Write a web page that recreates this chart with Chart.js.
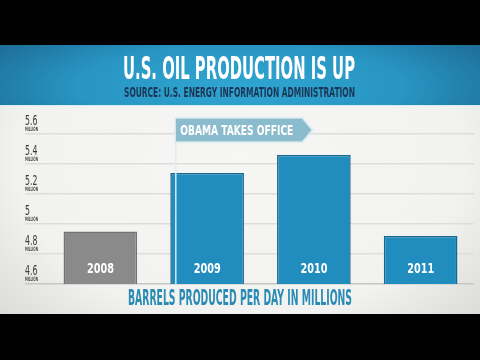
<!DOCTYPE html>
<html>

<head>
  <title>U.S. Oil Production Is Up</title>
  <script src="https://cdn.jsdelivr.net/npm/chart.js"></script>
  <style>
    body { margin: 0; background: #000; }
    #wrap { position: relative; width: 480px; height: 360px; overflow: hidden; background: #000; }
    #band {
      position: absolute; left: 0; top: 45px; width: 480px; height: 60px;
      background: radial-gradient(ellipse 62% 130% at 50% 70%, #30a6d2 0%, #2895c2 55%, #1c6a93 100%);
    }
    #panel {
      position: absolute; left: 0; top: 105px; width: 480px; height: 208px;
      border-top: 1px solid #d8ecf3;
      background: radial-gradient(ellipse 75% 125% at 50% 25%, #f6f6f4 0%, #f2f2f0 62%, #d2d2d0 100%);
    }
    .txt {
      position: absolute; white-space: nowrap; transform-origin: 0 0; line-height: 1;
      font-family: 'Liberation Sans Narrow', 'DejaVu Sans Condensed', 'Liberation Sans', sans-serif;
      font-weight: bold;
    }
    canvas { position: absolute; left: 0; top: 0; }
  </style>
</head>

<body>
  <div id="wrap">
    <div id="band"></div>
    <div id="panel"></div>
    <canvas id="myChart" width="480" height="360"></canvas>
    <span class="txt" id="title" style="color:#fff" data-x="123" data-top="57" data-cap="23" data-w="232">U.S. OIL PRODUCTION IS UP</span>
    <span class="txt" id="source" style="color:#1b3655" data-x="124" data-top="88" data-cap="10" data-w="231">SOURCE: U.S. ENERGY INFORMATION ADMINISTRATION</span>
    <span class="txt" id="caption" style="color:#2a8bb4" data-x="128" data-top="290" data-cap="15" data-w="224">BARRELS PRODUCED PER DAY IN MILLIONS</span>
  </div>
  <script>
    var years = ['2008', '2009', '2010', '2011'];
    var barrels = [4.95, 5.34, 5.46, 4.92];
    var yTicks = [4.6, 4.8, 5.0, 5.2, 5.4, 5.6];
    var tickUnit = 'MILLION';
    var note = 'OBAMA TAKES OFFICE';

    var FAMILY = "'Liberation Sans Narrow', 'DejaVu Sans Condensed', 'Liberation Sans', sans-serif";

    // squeeze html headings to the width of the original condensed type
    document.querySelectorAll('.txt').forEach(function (el) {
      var cap = +el.dataset.cap, size = cap / 0.72;
      el.style.fontSize = size + 'px';
      el.style.left = el.dataset.x + 'px';
      el.style.top = (+el.dataset.top - 0.12 * size) + 'px';
      var w = el.getBoundingClientRect().width;
      el.style.transform = 'scaleX(' + (+el.dataset.w / w) + ')';
    });

    function squeezeText(ctx, text, x, y, size, sx, align, weight) {
      ctx.font = (weight || 'bold') + ' ' + size + 'px ' + FAMILY;
      ctx.save();
      ctx.translate(x, y);
      ctx.scale(sx, 1);
      ctx.textAlign = align;
      ctx.textBaseline = 'alphabetic';
      ctx.fillText(text, 0, 0);
      ctx.restore();
    }

    function fitText(ctx, text, x, y, size, width, align, weight) {
      ctx.font = (weight || 'bold') + ' ' + size + 'px ' + FAMILY;
      squeezeText(ctx, text, x, y, size, width / ctx.measureText(text).width, align, weight);
    }

    var extras = {
      id: 'extras',
      afterDatasetsDraw: function (chart) {
        var ctx = chart.ctx, ys = chart.scales.y;
        var meta = chart.getDatasetMeta(0);

        // year labels inside the bars
        ctx.fillStyle = '#ffffff';
        meta.data.forEach(function (bar, i) {
          fitText(ctx, years[i], bar.x, ys.bottom - 11, 14, 27, 'center');
        });

        // tick labels, condensed, with "million" underneath
        ys.ticks.forEach(function (t) {
          var py = ys.getPixelForValue(t.value);
          ctx.fillStyle = '#3a3a3a';
          squeezeText(ctx, t.label, ys.left, py - 9, 14, 0.62, 'left', 'normal');
          ctx.fillStyle = '#4a4a4a';
          fitText(ctx, tickUnit, ys.left, py - 3.5, 6, 13, 'left');
        });

        // marker: obama takes office
        var lx = meta.data[1].x - meta.data[1].width / 2 + 5;
        var top = ys.top - 16, bot = ys.top + 8, tip = lx + 137;
        ctx.save();
        ctx.strokeStyle = 'rgba(222,236,241,0.95)';
        ctx.lineWidth = 1.5;
        ctx.beginPath();
        ctx.moveTo(lx + 0.5, top);
        ctx.lineTo(lx + 0.5, ys.bottom);
        ctx.stroke();
        ctx.beginPath();
        ctx.moveTo(lx, top);
        ctx.lineTo(tip - 10, top);
        ctx.lineTo(tip, (top + bot) / 2);
        ctx.lineTo(tip - 10, bot);
        ctx.lineTo(lx, bot);
        ctx.closePath();
        ctx.fillStyle = '#8bbccd';
        ctx.fill();
        ctx.strokeStyle = '#d6e8ee';
        ctx.stroke();
        ctx.fillStyle = '#ffffff';
        fitText(ctx, note, lx + 5, bot - 7, 14, 113, 'left');
        ctx.restore();
      }
    };

    var ctx = document.getElementById('myChart').getContext('2d');
    var myChart = new Chart(ctx, {
      type: 'bar',
      data: {
        labels: years,
        datasets: [{
          data: barrels,
          backgroundColor: function (c) { return c.dataIndex === 0 ? '#8a8a8a' : '#218dbf'; },
          borderColor: function (c) { return c.dataIndex === 0 ? '#737373' : '#17678f'; },
          borderWidth: 1.5,
          borderSkipped: false,
          categoryPercentage: 1,
          barPercentage: 0.69
        }]
      },
      options: {
        responsive: false,
        animation: false,
        devicePixelRatio: 1,
        layout: { padding: { left: 25, right: 6, top: 134, bottom: 76 } },
        plugins: { legend: { display: false }, tooltip: { enabled: false } },
        scales: {
          x: { display: false },
          y: {
            min: 4.6,
            max: 5.6,
            afterBuildTicks: function (scale) {
              scale.ticks = yTicks.map(function (v) { return { value: v }; });
            },
            afterFit: function (scale) {
              scale.width = 22;
              scale.paddingTop = 0;
              scale.paddingBottom = 0;
            },
            border: { display: false },
            grid: {
              color: function (c) { return c.tick && c.tick.value === 4.6 ? '#c6c6c4' : '#dddddb'; },
              lineWidth: 1.5,
              drawTicks: true,
              tickLength: 22
            },
            ticks: {
              display: false,
              callback: function (v) { return String(+(+v).toFixed(1)); }
            }
          }
        }
      },
      plugins: [extras]
    });
  </script>
</body>

</html>
